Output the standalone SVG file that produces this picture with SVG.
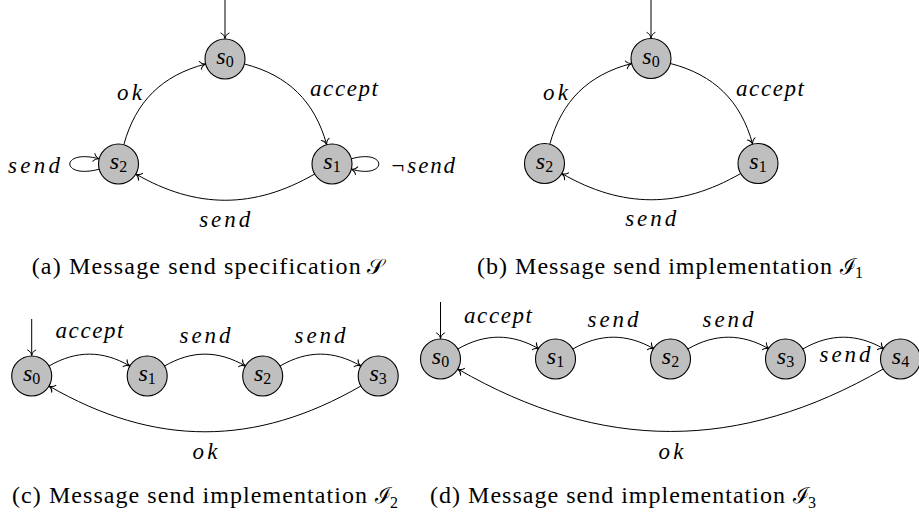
<svg xmlns="http://www.w3.org/2000/svg" width="919" height="516" viewBox="0 0 919 516">
  <defs>
    <!-- TikZ-style "to" arrow tip -->
    <marker id="tip" markerUnits="userSpaceOnUse" markerWidth="12" markerHeight="12" viewBox="-7 -6 8 12" refX="0" refY="0" orient="auto" overflow="visible">
      <path d="M-5.5,-4 C-4.5,-1.6 -2,-0.4 0,0 C-2,0.4 -4.5,1.6 -5.5,4" fill="none" stroke="#000" stroke-width="1" stroke-linecap="round"/>
    </marker>
    <style>
      text { font-family: 'Liberation Serif', 'Times New Roman', Times, Tinos, 'Nimbus Roman', 'DejaVu Serif', 'Noto Serif', FreeSerif, serif; fill: #000; }
      .state circle { fill: #bfbfbf; stroke: #000; stroke-width: 1.1; }
      .edge { fill: none; stroke: #000; stroke-width: 1; marker-end: url(#tip); }
      .lbl { font-style: italic; font-size: 23px; text-anchor: middle; }
      .nm { font-size: 24px; text-anchor: middle; }
      .nm .i { font-style: italic; }
      .nm .sub { font-size: 16px; font-style: normal; }
      .cap { font-size: 24px; }
      .cal { font-size: 22px; }
      .capsub { font-size: 16px; }
    </style>
  </defs>

  <!-- (a) specification S -->
  <g id="panel-a">
    <g id="a-edges">
      <path class="edge" d="M225,-1 V38.5"/>
      <path class="edge" d="M244.4,64 C288.1,75.3 314.7,101.2 326.7,144.7"/>
      <path class="edge" d="M314.7,174 C254.1,209 196.4,209 135.8,174"/>
      <path class="edge" d="M123.8,144.7 C135.75,101.3 162.1,75.3 205.65,64"/>
      <path class="edge" d="M99.2,169.2 C60,179.6 60,148.4 99.2,158.8"/>
      <path class="edge" d="M351.3,158.8 C388,148.4 388,179.6 351.3,169.2"/>
      <text class="lbl" x="129.5" y="100" textLength="25">ok</text>
      <text class="lbl" x="344" y="96" textLength="68">accept</text>
      <text class="lbl" x="224.7" y="226.5" textLength="51">send</text>
      <text class="lbl" x="34" y="173" textLength="52">send</text>
      <text class="lbl" x="422.5" y="173" textLength="65">¬send</text>
    </g>
    <g id="a-s0" class="state"><circle cx="225" cy="59" r="20"/><text class="nm" x="225" y="64"><tspan class="i">s</tspan><tspan class="sub" dy="3">0</tspan></text></g>
    <g id="a-s1" class="state"><circle cx="332" cy="164" r="20"/><text class="nm" x="332" y="169"><tspan class="i">s</tspan><tspan class="sub" dy="3">1</tspan></text></g>
    <g id="a-s2" class="state"><circle cx="118.5" cy="164" r="20"/><text class="nm" x="118.5" y="169"><tspan class="i">s</tspan><tspan class="sub" dy="3">2</tspan></text></g>
    <text class="cap" x="31.7" y="273.5" textLength="329" lengthAdjust="spacing">(a) Message send specification</text>
    <text class="cal" x="367" y="273.5">𝒮</text>
  </g>

  <!-- (b) implementation I1 -->
  <g id="panel-b" transform="translate(426,-0.5)">
    <g id="b-edges">
      <path class="edge" d="M225,-1 V38.5"/>
      <path class="edge" d="M244.4,64 C288.1,75.3 314.7,101.2 326.7,144.7"/>
      <path class="edge" d="M314.7,174 C254.1,209 196.4,209 135.8,174"/>
      <path class="edge" d="M123.8,144.7 C135.75,101.3 162.1,75.3 205.65,64"/>
      <text class="lbl" x="129.5" y="100" textLength="25">ok</text>
      <text class="lbl" x="344" y="96" textLength="68">accept</text>
      <text class="lbl" x="224.7" y="226.5" textLength="51">send</text>
    </g>
    <g id="b-s0" class="state"><circle cx="225" cy="59" r="20"/><text class="nm" x="225" y="64"><tspan class="i">s</tspan><tspan class="sub" dy="3">0</tspan></text></g>
    <g id="b-s1" class="state"><circle cx="332" cy="164" r="20"/><text class="nm" x="332" y="169"><tspan class="i">s</tspan><tspan class="sub" dy="3">1</tspan></text></g>
    <g id="b-s2" class="state"><circle cx="118.5" cy="164" r="20"/><text class="nm" x="118.5" y="169"><tspan class="i">s</tspan><tspan class="sub" dy="3">2</tspan></text></g>
  </g>
  <text class="cap" x="477" y="273.5" textLength="355" lengthAdjust="spacing">(b) Message send implementation</text>
  <text class="cal" x="840" y="273.5">ℐ</text>
  <text class="capsub" x="855" y="278">1</text>

  <!-- (c) implementation I2 -->
  <g id="panel-c">
    <g id="c-edges">
      <path class="edge" d="M31.7,319 V355.5"/>
      <path class="edge" d="M49.02,366 C76.44,350.17 102.46,350.17 129.88,366"/>
      <path class="edge" d="M164.52,366 C191.94,350.17 217.96,350.17 245.38,366"/>
      <path class="edge" d="M280.02,366 C307.44,350.17 333.46,350.17 360.88,366"/>
      <path class="edge" d="M360.88,386 C255.18,447.05 154.72,447.05 49.02,386"/>
      <text class="lbl" x="89.5" y="338" textLength="68">accept</text>
      <text class="lbl" x="205" y="342.5" textLength="51">send</text>
      <text class="lbl" x="320" y="342.5" textLength="51">send</text>
      <text class="lbl" x="205" y="458.5" textLength="25">ok</text>
    </g>
    <g id="c-s0" class="state"><circle cx="31.7" cy="376" r="20"/><text class="nm" x="31.7" y="381"><tspan class="i">s</tspan><tspan class="sub" dy="3">0</tspan></text></g>
    <g id="c-s1" class="state"><circle cx="147.2" cy="376" r="20"/><text class="nm" x="147.2" y="381"><tspan class="i">s</tspan><tspan class="sub" dy="3">1</tspan></text></g>
    <g id="c-s2" class="state"><circle cx="262.7" cy="376" r="20"/><text class="nm" x="262.7" y="381"><tspan class="i">s</tspan><tspan class="sub" dy="3">2</tspan></text></g>
    <g id="c-s3" class="state"><circle cx="378.2" cy="376" r="20"/><text class="nm" x="378.2" y="381"><tspan class="i">s</tspan><tspan class="sub" dy="3">3</tspan></text></g>
    <text class="cap" x="12" y="503" textLength="355" lengthAdjust="spacing">(c) Message send implementation</text>
    <text class="cal" x="375" y="503">ℐ</text>
    <text class="capsub" x="390" y="507.5">2</text>
  </g>

  <!-- (d) implementation I3 -->
  <g id="panel-d">
    <g id="d-edges">
      <path class="edge" d="M440.5,302 V338.5"/>
      <path class="edge" d="M457.82,349 C485.07,333.27 511.93,333.27 539.18,349"/>
      <path class="edge" d="M572.82,349 C600.07,333.27 626.93,333.27 654.18,349"/>
      <path class="edge" d="M687.82,349 C715.07,333.27 741.93,333.27 769.18,349"/>
      <path class="edge" d="M802.82,349 C830.07,333.27 856.93,333.27 884.18,349"/>
      <path class="edge" d="M883.18,369 C738.96,452.27 602.04,452.27 457.82,369"/>
      <text class="lbl" x="498" y="322.5" textLength="68">accept</text>
      <text class="lbl" x="613" y="326.5" textLength="51">send</text>
      <text class="lbl" x="728" y="326.5" textLength="51">send</text>
      <text class="lbl" x="845" y="362" textLength="51">send</text>
      <text class="lbl" x="671" y="458.5" textLength="25">ok</text>
    </g>
    <g id="d-s0" class="state"><circle cx="440.5" cy="359" r="20"/><text class="nm" x="440.5" y="364"><tspan class="i">s</tspan><tspan class="sub" dy="3">0</tspan></text></g>
    <g id="d-s1" class="state"><circle cx="555.5" cy="359" r="20"/><text class="nm" x="555.5" y="364"><tspan class="i">s</tspan><tspan class="sub" dy="3">1</tspan></text></g>
    <g id="d-s2" class="state"><circle cx="670.5" cy="359" r="20"/><text class="nm" x="670.5" y="364"><tspan class="i">s</tspan><tspan class="sub" dy="3">2</tspan></text></g>
    <g id="d-s3" class="state"><circle cx="785.5" cy="359" r="20"/><text class="nm" x="785.5" y="364"><tspan class="i">s</tspan><tspan class="sub" dy="3">3</tspan></text></g>
    <g id="d-s4" class="state"><circle cx="900.5" cy="359" r="20"/><text class="nm" x="900.5" y="364"><tspan class="i">s</tspan><tspan class="sub" dy="3">4</tspan></text></g>
    <text class="cap" x="430" y="503" textLength="355" lengthAdjust="spacing">(d) Message send implementation</text>
    <text class="cal" x="793" y="503">ℐ</text>
    <text class="capsub" x="808" y="507.5">3</text>
  </g>
</svg>
